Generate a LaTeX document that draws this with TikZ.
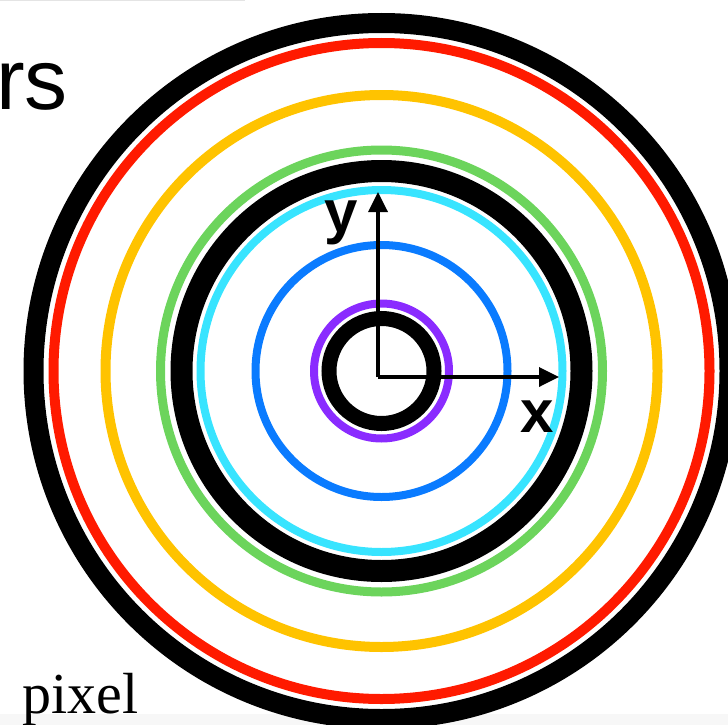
\documentclass[tikz,border=0pt]{standalone}
\usepackage{fontspec}
\setmainfont{Liberation Serif}
\setsansfont{Liberation Sans}
\usetikzlibrary{arrows.meta}

\definecolor{ringred}{RGB}{255,26,0}
\definecolor{ringyellow}{RGB}{255,195,0}
\definecolor{ringgreen}{RGB}{108,212,92}
\definecolor{ringcyan}{RGB}{56,228,255}
\definecolor{ringblue}{RGB}{10,123,255}
\definecolor{ringpurple}{RGB}{138,43,255}

\tikzset{
	ring/.style={line width=#1},
	axis/.style={line width=3.5pt,-{Triangle[length=20pt,width=19pt]}},
	axislabel/.style={inner sep=0pt,font=\sffamily\bfseries\fontsize{60}{60}\selectfont},
}

\begin{document}
\begin{tikzpicture}[x=1pt,y=1pt,yscale=-1,xscale=1]
	\useasboundingbox (0,0) rectangle (728,725);
	
	%Shape: Rectangle [page edges]
	\fill [color={rgb, 255:red, 247; green, 247; blue, 247 }] (0,714) rectangle (728,725);
	\fill [color={rgb, 255:red, 228; green, 228; blue, 228 }] (0,0) rectangle (245,1.5);
	
	\coordinate (C) at (381.5,371);
	
	%Shape: Circle [outer black]
	\draw [ring=20pt] (C) circle (348);
	%Shape: Circle [red]
	\draw [ring=10pt, ringred] (C) circle (328);
	%Shape: Circle [yellow]
	\draw [ring=10pt, ringyellow] (C) circle (276);
	%Shape: Circle [green]
	\draw [ring=9pt, ringgreen] (C) circle (221);
	%Shape: Circle [middle black]
	\draw [ring=22pt] (C) circle (200);
	%Shape: Circle [cyan]
	\draw [ring=8pt, ringcyan] (C) circle (181);
	%Shape: Circle [blue]
	\draw [ring=8pt, ringblue] (C) circle (126);
	%Shape: Circle [purple]
	\draw [ring=8pt, ringpurple] (C) circle (67.5);
	%Shape: Circle [inner black]
	\draw [ring=15pt] (C) circle (52.5);
	
	% Axes
	\coordinate (O) at (378,377);
	\coordinate (xtip) at (559,377);
	\coordinate (ytip) at (378,192);
	\draw [axis] (O) -- (xtip);
	\draw [axis] (O) -- (ytip);
	
	% Text Node
	\node (ylabel) [axislabel, anchor=base] at (341,232) {y};
	% Text Node
	\node (xlabel) [axislabel, anchor=base] at (537,432) {x};
	% Text Node
	\node (title) [inner sep=0pt, anchor=base west, font=\sffamily\fontsize{86}{86}\selectfont] at (-4,110) {rs};
	% Text Node
	\node (scale) [inner sep=0pt, anchor=base west, font=\fontsize{58}{58}\selectfont] at (22,713) {pixel};
\end{tikzpicture}
\end{document}
